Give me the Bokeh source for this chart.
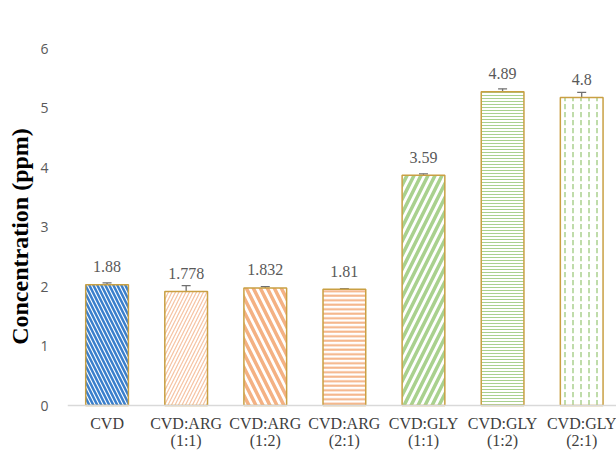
from bokeh.plotting import figure
from bokeh.models import (ColumnDataSource, Range1d, FixedTicker, Whisker, TeeHead,
                          LinearAxis, Title)
from bokeh.embed import file_html
from bokeh.resources import INLINE
from bokeh.core.properties import value

# ---- data ----
categories = ["CVD", "CVD:ARG\n(1:1)", "CVD:ARG\n(1:2)", "CVD:ARG\n(2:1)",
              "CVD:GLY\n(1:1)", "CVD:GLY\n(1:2)", "CVD:GLY\n(2:1)"]
concentration = [1.88, 1.778, 1.832, 1.81, 3.59, 4.89, 4.8]
errors = [0.03, 0.09, 0.02, 0.01, 0.02, 0.045, 0.08]
value_labels = ["1.88", "1.778", "1.832", "1.81", "3.59", "4.89", "4.8"]
y_ticks = [0, 1, 2, 3, 4, 5, 6]
y_title = "Concentration (ppm)"

# ---- styles ----
hatch_patterns = ["left_diagonal_line", "right_diagonal_line", "left_diagonal_line",
                  "horizontal_line", "right_diagonal_line", "horizontal_line", "vertical_dash"]
hatch_colors = ["#3A7FCC", "#F6C3A2", "#F4B183", "#F4B183", "#A9D18E", "#A9D18E", "#A9D18E"]
hatch_scales = [8, 7, 14, 4.5, 14, 3, 8]
hatch_weights = [2.5, 1.2, 3.5, 2, 3.5, 1, 1.5]

x = [i + 0.5 for i in range(len(categories))]
src = ColumnDataSource(dict(
    x=x, top=concentration, label=value_labels,
    upper=[c + e for c, e in zip(concentration, errors)],
    lower=[c - e for c, e in zip(concentration, errors)],
    hp=hatch_patterns, hc=hatch_colors, hs=hatch_scales, hw=hatch_weights,
))

p = figure(width=616, height=452, output_backend="svg", toolbar_location=None,
           x_range=Range1d(0, 6.94), y_range=Range1d(-0.7324, 6),
           x_axis_location=None, y_axis_location=None,
           min_border_left=63, min_border_right=0, min_border_top=20, min_border_bottom=0)
p.extra_y_ranges = {"ticks": Range1d(-0.7899, 6.4706)}
p.outline_line_color = None
p.xgrid.grid_line_color = None
p.ygrid.grid_line_color = None
p.background_fill_color = "white"
p.border_fill_color = "white"

p.vbar(x="x", top="top", bottom=0, width=0.54, source=src, fill_color="white",
       line_color="#C9A043", line_width=1.5,
       hatch_pattern="hp", hatch_color="hc", hatch_scale="hs", hatch_weight="hw")

head_u = TeeHead(size=9, line_color="#707070", line_width=1.3)
head_l = TeeHead(size=9, line_color="#707070", line_width=1.3)
p.add_layout(Whisker(base="x", upper="upper", lower="lower", source=src,
                     line_color="#707070", line_width=1.3,
                     upper_head=head_u, lower_head=head_l))

p.text(x="x", y="top", text="label", source=src, text_font=value("Liberation Serif"),
       text_font_size="16px", text_color="#595959", text_align="center",
       text_baseline="middle", y_offset=-18)

# x axis drawn at y = 0
xaxis = LinearAxis(fixed_location=0, ticker=FixedTicker(ticks=x),
                   major_label_overrides={xi: c for xi, c in zip(x, categories)})
xaxis.major_label_text_font = "Liberation Serif"
xaxis.major_label_text_font_size = "16px"
xaxis.major_label_text_color = "#404040"
xaxis.major_label_text_line_height = 1.05
xaxis.major_label_standoff = 9
xaxis.major_tick_out = 0
xaxis.major_tick_in = 0
xaxis.axis_line_color = "#D9D9D9"
xaxis.axis_line_width = 1.5
xaxis.major_tick_line_color = None
xaxis.minor_tick_line_color = None
p.add_layout(xaxis, "below")

# y axis
yaxis = LinearAxis(y_range_name="ticks", ticker=FixedTicker(ticks=y_ticks))
yaxis.major_label_text_font = "Open Sans"
yaxis.major_label_text_font_size = "14px"
yaxis.major_label_text_color = "#595959"
yaxis.major_label_standoff = 19
yaxis.major_tick_out = 0
yaxis.major_tick_in = 0
yaxis.axis_line_color = None
yaxis.major_tick_line_color = None
yaxis.minor_tick_line_color = None
p.add_layout(yaxis, "left")

# y axis title
p.add_layout(Title(text=y_title, align="center", offset=34, standoff=9,
                   text_font="Liberation Serif", text_font_style="bold",
                   text_font_size="24px", text_color="black"), "left")

open("out.html", "w").write(file_html(p, INLINE))
